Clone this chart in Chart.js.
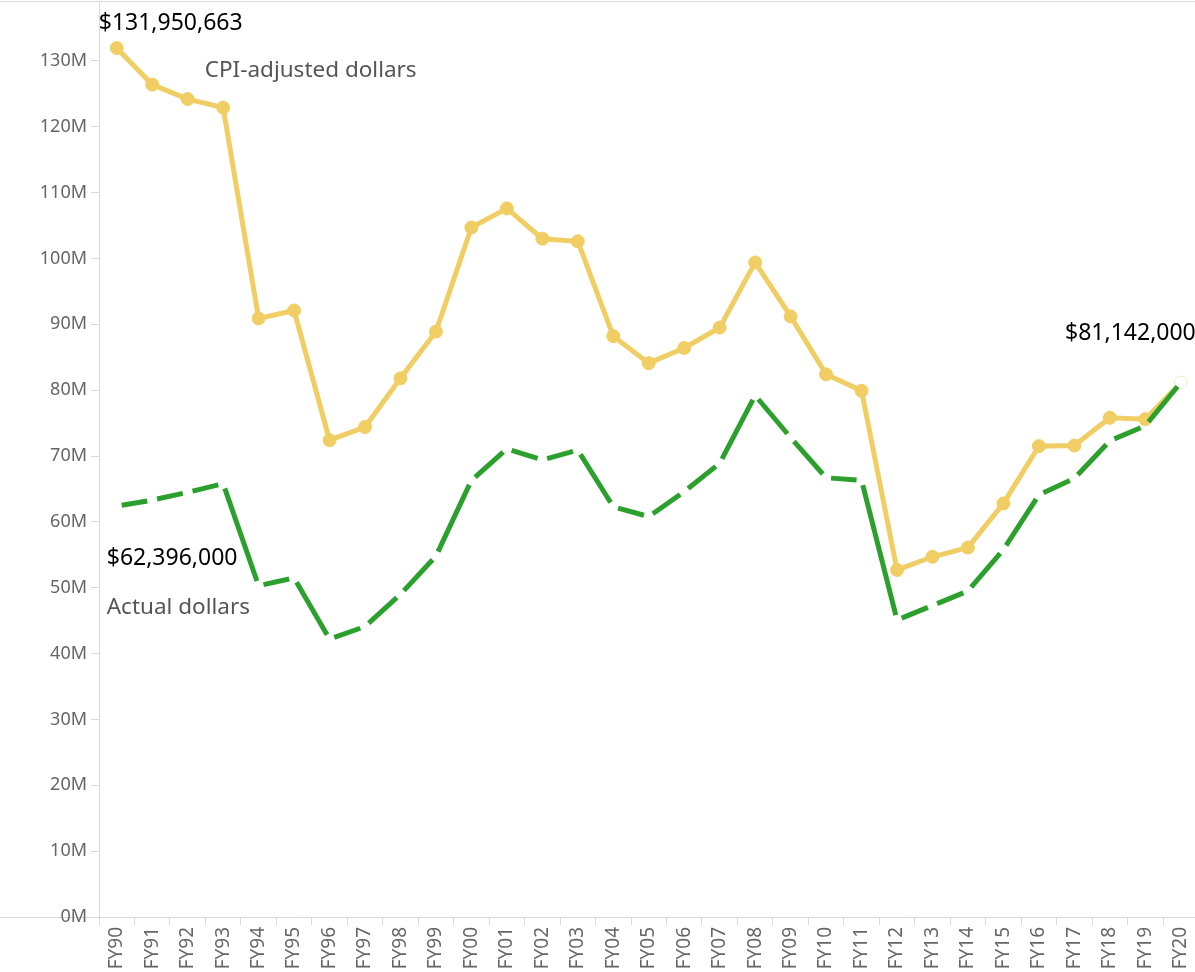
<!DOCTYPE html>
<html>
<head>
<meta charset="utf-8">
<script src="https://cdn.jsdelivr.net/npm/chart.js@4.4.1/dist/chart.umd.min.js"></script>
<style>
  html, body { margin: 0; padding: 0; background: #fff; overflow: hidden; }
  #chart { display: block; }
</style>
</head>
<body>
<canvas id="chart" width="1206" height="972"></canvas>
<script>
// Funding by fiscal year, CPI-adjusted vs actual dollars
const years = ['FY90','FY91','FY92','FY93','FY94','FY95','FY96','FY97','FY98','FY99',
  'FY00','FY01','FY02','FY03','FY04','FY05','FY06','FY07','FY08','FY09',
  'FY10','FY11','FY12','FY13','FY14','FY15','FY16','FY17','FY18','FY19','FY20'];

const cpiAdjusted = [131950663, 126400000, 124200000, 122900000, 90900000, 92100000, 72400000, 74400000, 81800000, 88900000,
  104700000, 107600000, 103000000, 102600000, 88200000, 84100000, 86400000, 89500000, 99400000, 91200000,
  82400000, 79900000, 52700000, 54700000, 56100000, 62800000, 71500000, 71600000, 75800000, 75600000, 81142000];

const actualDollars = [62396000, 63300000, 64500000, 65800000, 50300000, 51500000, 42200000, 44100000, 49000000, 54800000,
  66300000, 71100000, 69400000, 70900000, 62300000, 60800000, 64600000, 68900000, 79200000, 72800000,
  66700000, 66300000, 45100000, 47300000, 49500000, 55800000, 64100000, 66600000, 72300000, 74600000, 81142000];

const yTicks = [0, 10000000, 20000000, 30000000, 40000000, 50000000, 60000000, 70000000,
  80000000, 90000000, 100000000, 110000000, 120000000, 130000000];
const yMax = 137000000;

const cpiLabel = 'CPI-adjusted dollars';
const actualLabel = 'Actual dollars';
const cpiStartText = '$131,950,663';
const actualStartText = '$62,396,000';
const endText = '$81,142,000';

const YELLOW = '#f1ce63';
const GREEN = '#2ca02c';
const AXIS = '#d9d9d9';
const FONT = "'Noto Sans', 'DejaVu Sans', sans-serif";

// dashes restart on every segment, with a small gap at each vertex
const GAP = 5;
const segLen = (ctx) => Math.hypot(ctx.p1.x - ctx.p0.x, ctx.p1.y - ctx.p0.y);

const pointBg = cpiAdjusted.map((_, i) => i === cpiAdjusted.length - 1 ? '#ffffff' : YELLOW);
const pointBorder = cpiAdjusted.map((_, i) => i === cpiAdjusted.length - 1 ? '#f7e7b6' : YELLOW);

const framePlugin = {
  id: 'frame',
  beforeDraw(chart) {
    const { ctx, chartArea, width } = chart;
    ctx.save();
    ctx.strokeStyle = AXIS;
    ctx.lineWidth = 1;
    ctx.beginPath();
    ctx.moveTo(0, 1.5); ctx.lineTo(width, 1.5);
    ctx.moveTo(0, Math.round(chartArea.bottom) + 0.5); ctx.lineTo(width, Math.round(chartArea.bottom) + 0.5);
    ctx.moveTo(Math.round(chartArea.left) + 0.5, 1.5); ctx.lineTo(Math.round(chartArea.left) + 0.5, chartArea.top);
    ctx.stroke();
    ctx.restore();
  }
};

const labelPlugin = {
  id: 'labels',
  afterDatasetsDraw(chart) {
    const { ctx } = chart;
    const green = chart.getDatasetMeta(0).data;
    const yellow = chart.getDatasetMeta(1).data;
    const c0 = yellow[0], g0 = green[0], last = yellow[yellow.length - 1];
    ctx.save();
    ctx.textBaseline = 'middle';
    ctx.textAlign = 'left';
    ctx.font = '23px ' + FONT;
    ctx.fillStyle = '#000';
    ctx.fillText(cpiStartText, c0.x - 18, c0.y - 25);
    ctx.fillText(actualStartText, g0.x - 10, g0.y + 52);
    ctx.textAlign = 'right';
    ctx.fillText(endText, last.x + 15, last.y - 49);
    ctx.textAlign = 'left';
    ctx.font = '22.5px ' + FONT;
    ctx.fillStyle = '#555';
    ctx.fillText(cpiLabel, c0.x + 88, c0.y + 23);
    ctx.fillText(actualLabel, g0.x - 10, g0.y + 101);
    ctx.restore();
  }
};

new Chart(document.getElementById('chart'), {
  type: 'line',
  data: {
    labels: years,
    datasets: [
      {
        label: actualLabel,
        data: actualDollars,
        borderColor: GREEN,
        borderWidth: 5,
        borderCapStyle: 'butt',
        pointRadius: 0,
        tension: 0,
        segment: {
          borderDash: ctx => [Math.max(segLen(ctx) - 2 * GAP, 1), 2 * GAP],
          borderDashOffset: ctx => segLen(ctx) - GAP
        }
      },
      {
        label: cpiLabel,
        data: cpiAdjusted,
        borderColor: YELLOW,
        borderWidth: 5,
        pointRadius: 6.5,
        pointBackgroundColor: pointBg,
        pointBorderColor: pointBorder,
        pointBorderWidth: 1,
        tension: 0
      }
    ]
  },
  options: {
    responsive: false,
    animation: false,
    clip: false,
    layout: { padding: { top: 2, left: 0, right: 0, bottom: 0 } },
    plugins: { legend: { display: false }, tooltip: { enabled: false } },
    scales: {
      x: {
        offset: true,
        grid: { offset: true, drawOnChartArea: false, drawTicks: true, tickLength: 8, color: AXIS },
        border: { display: false },
        ticks: {
          autoSkip: false, maxRotation: 90, minRotation: 90, padding: 2,
          color: '#666', font: { family: FONT, size: 19 }
        },
        afterFit: s => { s.height = 55; }
      },
      y: {
        min: 0,
        max: yMax,
        grid: { drawOnChartArea: false, drawTicks: true, tickLength: 8, color: AXIS },
        border: { display: true, color: AXIS, width: 1 },
        afterBuildTicks: s => { s.ticks = yTicks.map(v => ({ value: v })); },
        ticks: {
          padding: 4,
          color: '#666',
          font: { family: FONT, size: 18 },
          callback: v => (v / 1000000) + 'M'
        },
        afterFit: s => { s.width = 99; }
      }
    }
  },
  plugins: [framePlugin, labelPlugin]
});
</script>
</body>
</html>
